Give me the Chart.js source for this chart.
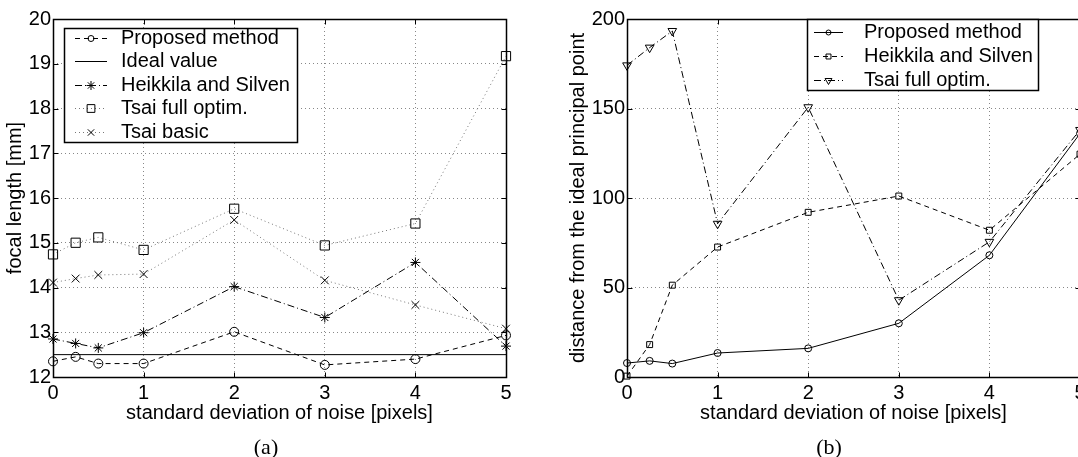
<!DOCTYPE html>
<html>
<head>
<meta charset="utf-8">
<script src="https://cdn.jsdelivr.net/npm/chart.js@4.4.1/dist/chart.umd.min.js"></script>
<style>
  html, body { margin: 0; padding: 0; background: #fff; overflow: hidden; }
  body { width: 1078px; height: 457px; position: relative; }
  canvas { position: absolute; top: 0; }
  #chartA { left: 0; }
  #chartB { left: 540px; }
  .cap { position: absolute; font: 22px "Liberation Serif", "Times New Roman", serif; color: #000; transform: translate(-50%, -50%); white-space: nowrap; }
</style>
</head>
<body>
<canvas id="chartA" width="540" height="457"></canvas>
<canvas id="chartB" width="560" height="457"></canvas>
<div class="cap" style="left:266px;top:447px">(a)</div>
<div class="cap" style="left:829px;top:447px">(b)</div>
<script>
// noise levels (x) shared by both panels
const noiseLevels = [0, 0.25, 0.5, 1, 2, 3, 4, 5];
const noiseTicks = [0, 1, 2, 3, 4, 5];

// (a) focal length [mm]
const focalTicks = [12, 13, 14, 15, 16, 17, 18, 19, 20];
const focalProposed = [12.35, 12.45, 12.30, 12.30, 13.01, 12.27, 12.40, 12.93];
const focalIdeal = 12.5;
const focalHeikkila = [12.85, 12.75, 12.65, 12.99, 14.02, 13.33, 14.56, 12.69];
const focalTsaiFull = [14.74, 15.00, 15.12, 14.84, 15.76, 14.94, 15.43, 19.17];
const focalTsaiBasic = [14.11, 14.20, 14.28, 14.30, 15.51, 14.16, 13.61, 13.08];

// (b) distance from the ideal principal point
const distTicks = [0, 50, 100, 150, 200];
const distProposed = [7.8, 9.0, 7.5, 13.4, 16.0, 30.0, 68.0, 136.0];
const distHeikkila = [0.5, 18.1, 51.3, 72.6, 92.0, 101.1, 82.0, 124.5];
const distTsaiFull = [174.1, 184.0, 193.3, 85.6, 150.7, 42.9, 75.5, 138.0];

const FONT = 'Arial, "Liberation Sans", Helvetica, sans-serif';
Chart.defaults.font.family = FONT;
Chart.defaults.font.size = 20;
Chart.defaults.color = '#000';

const pts = ys => ys.map((y, i) => ({ x: noiseLevels[i], y }));

// box around the axes + inward ticks, matlab style
const frame = {
  id: 'frame',
  afterDatasetsDraw(chart) {
    const { ctx, chartArea: a, scales: { x, y } } = chart;
    const L = Math.round(a.left) + 0.5, R = Math.round(a.right) + 0.5;
    const T = Math.round(a.top) + 0.5, B = Math.round(a.bottom) + 0.5;
    ctx.save();
    ctx.strokeStyle = '#000'; ctx.setLineDash([]);
    ctx.lineWidth = 1.5;
    ctx.strokeRect(L, T, R - L, B - T);
    ctx.lineWidth = 1;
    ctx.beginPath();
    x.ticks.forEach(t => {
      const px = Math.round(x.getPixelForValue(t.value)) + 0.5;
      ctx.moveTo(px, B); ctx.lineTo(px, B - 5);
      ctx.moveTo(px, T); ctx.lineTo(px, T + 5);
    });
    y.ticks.forEach(t => {
      const py = Math.round(y.getPixelForValue(t.value)) + 0.5;
      ctx.moveTo(L, py); ctx.lineTo(L + 5, py);
      ctx.moveTo(R, py); ctx.lineTo(R - 5, py);
    });
    ctx.stroke();
    ctx.restore();
  }
};

// legend box drawn inside the plot area
const boxLegend = {
  id: 'boxLegend',
  afterDraw(chart) {
    const o = chart.options.plugins.boxLegend;
    const { ctx, chartArea: a } = chart;
    const bx = Math.round(a.left + o.left), by = Math.round(a.top + o.top);
    ctx.save();
    ctx.fillStyle = '#fff';
    ctx.fillRect(bx, by, o.width, o.height);
    ctx.strokeStyle = '#000'; ctx.lineWidth = 1.5; ctx.setLineDash([]);
    ctx.strokeRect(bx + 0.5, by + 0.5, o.width, o.height);
    chart.data.datasets.forEach((ds, i) => {
      const yy = Math.round(by + o.rowTop + i * o.rowGap) + 0.5;
      const x0 = bx + o.sampleX, x1 = x0 + o.sampleW;
      ctx.strokeStyle = ds.borderColor; ctx.lineWidth = ds.borderWidth;
      ctx.setLineDash(ds.borderDash || []);
      ctx.beginPath(); ctx.moveTo(x0, yy); ctx.lineTo(x1, yy); ctx.stroke();
      ctx.setLineDash([]);
      if (ds.pointRadius > 0) {
        ctx.strokeStyle = '#000'; ctx.fillStyle = 'rgba(0,0,0,0)'; ctx.lineWidth = 1;
        Chart.helpers.drawPoint(ctx, { pointStyle: ds.pointStyle, radius: ds.legendRadius, rotation: ds.pointRotation || 0, borderWidth: 1 }, (x0 + x1) / 2, yy);
      }
      ctx.fillStyle = '#000';
      ctx.font = '20px ' + FONT;
      ctx.textBaseline = 'middle'; ctx.textAlign = 'left';
      ctx.fillText(ds.label, bx + o.textX, yy);
    });
    ctx.restore();
  }
};

function series(label, data, style) {
  return Object.assign({
    label, data, borderColor: '#000', borderWidth: 1, borderDash: [],
    pointBorderColor: '#000', pointBackgroundColor: 'rgba(0,0,0,0)', pointBorderWidth: 1,
    pointRadius: 0, legendRadius: 3, fill: false, tension: 0, clip: false
  }, style);
}

function axes(yMin, yMax, yTicks, yTitle, yWidth, yTitlePad) {
  return {
    x: {
      type: 'linear', min: 0, max: 5,
      afterBuildTicks: s => { s.ticks = noiseTicks.map(v => ({ value: v })); },
      afterFit: s => { s.height = 50; },
      ticks: { padding: 4, maxRotation: 0 },
      grid: { color: '#888', lineWidth: 1, drawTicks: false },
      border: { display: false, dash: [1, 3] },
      title: { display: true, text: 'standard deviation of noise [pixels]', padding: 2 }
    },
    y: {
      type: 'linear', min: yMin, max: yMax,
      afterBuildTicks: s => { s.ticks = yTicks.map(v => ({ value: v })); },
      afterFit: s => { s.width = yWidth; },
      ticks: { padding: 2 },
      grid: { color: '#888', lineWidth: 1, drawTicks: false },
      border: { display: false, dash: [1, 3] },
      title: { display: true, text: yTitle, padding: yTitlePad }
    }
  };
}

new Chart(document.getElementById('chartA'), {
  type: 'line',
  data: {
    datasets: [
      series('Proposed method', pts(focalProposed), { borderDash: [5, 4], pointStyle: 'circle', pointRadius: 4.5, legendRadius: 3 }),
      series('Ideal value', [{ x: noiseTicks[0], y: focalIdeal }, { x: noiseTicks[noiseTicks.length - 1], y: focalIdeal }], {}),
      series('Heikkila and Silven', pts(focalHeikkila), { borderDash: [7, 3, 1, 3], pointStyle: 'star', pointRadius: 5, legendRadius: 4.5 }),
      series('Tsai full optim.', pts(focalTsaiFull), { borderColor: '#777', borderDash: [1, 3], pointStyle: 'rect', pointRadius: 6.5, legendRadius: 5.5 }),
      series('Tsai basic', pts(focalTsaiBasic), { borderColor: '#777', borderDash: [1, 3], pointStyle: 'crossRot', pointRadius: 5.5, legendRadius: 4.5 })
    ]
  },
  options: {
    responsive: false, animation: false, devicePixelRatio: 1,
    layout: { padding: { left: 0, top: 19, right: 34, bottom: 30 } },
    plugins: {
      legend: { display: false }, tooltip: { enabled: false },
      boxLegend: { left: 11, top: 9, width: 233, height: 114, rowTop: 9.7, rowGap: 23.5, sampleX: 11, sampleW: 32, textX: 57 }
    },
    scales: axes(12, 20, focalTicks, 'focal length [mm]', 53, 3)
  },
  plugins: [frame, boxLegend]
});

new Chart(document.getElementById('chartB'), {
  type: 'line',
  data: {
    datasets: [
      series('Proposed method', pts(distProposed), { pointStyle: 'circle', pointRadius: 3.5, legendRadius: 2.5 }),
      series('Heikkila and Silven', pts(distHeikkila), { borderDash: [5, 4], pointStyle: 'rect', pointRadius: 4.2, legendRadius: 3.5 }),
      series('Tsai full optim.', pts(distTsaiFull), { borderDash: [7, 3, 1, 3], pointStyle: 'triangle', pointRotation: 180, pointRadius: 5, legendRadius: 4 })
    ]
  },
  options: {
    responsive: false, animation: false, devicePixelRatio: 1,
    layout: { padding: { left: 0, top: 19, right: 20, bottom: 30 } },
    plugins: {
      legend: { display: false }, tooltip: { enabled: false },
      boxLegend: { left: 180, top: 0, width: 231, height: 71, rowTop: 13, rowGap: 23.8, sampleX: 7, sampleW: 29, textX: 57 }
    },
    scales: axes(0, 200, distTicks, 'distance from the ideal principal point', 87, 26)
  },
  plugins: [frame, boxLegend]
});
</script>
</body>
</html>
